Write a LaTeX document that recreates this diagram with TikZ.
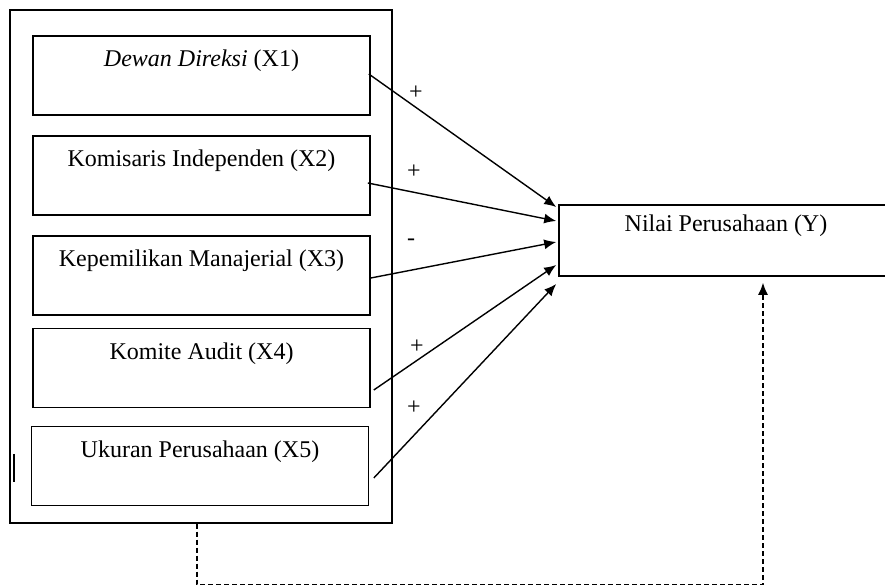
\documentclass[tikz,border=0pt]{standalone}
\usepackage{fontspec}
\setmainfont{Liberation Serif}
\usetikzlibrary{calc,arrows.meta}
\tikzset{
	varbox/.style={draw, line width=0.8pt, minimum width=168.5pt, inner sep=0pt, text height=15.5pt, text depth=24pt},
	infl/.style={line width=0.7pt, -{Latex[length=6pt,width=5pt]}},
}

\begin{document}
\begin{tikzpicture}[x=0.5pt, y=-0.5pt, font=\fontsize{12}{14}\selectfont]
		%%%%% START %%%%%
		\useasboundingbox (0,0) rectangle (885,587);
		
		\node[draw, line width=0.7pt, minimum width=191pt, minimum height=256.5pt, inner sep=0pt] (frame) at (201,266.5) {};
		
		\node[varbox] (x1) at (201.5,75.5) {\textit{Dewan Direksi} (X1)};
		\node[varbox] (x2) at (201.5,175.5) {Komisaris Independen (X2)};
		\node[varbox] (x3) at (201.5,275.5) {Kepemilikan Manajerial (X3)};
		\node[varbox] (x4) at (201.5,368) {Komite Audit (X4)};
		\node[varbox] (x5) at (200,466) {Ukuran Perusahaan (X5)};
		
		\node[varbox, minimum width=167pt, text height=13.5pt, text depth=22pt] (ybox) at (726,240.5) {Nilai Perusahaan (Y)};
		
		\draw[infl] ($(x1.east)+(-2,-1.5)$) -- ($(ybox.west)+(-2,-33.5)$);
		\draw[infl] ($(x2.east)+(-3,7.5)$) -- ($(ybox.west)+(-2,-19.5)$);
		\draw[infl] ($(x3.east)+(0,2.5)$) -- ($(ybox.west)+(-2,1.5)$);
		\draw[infl] ($(x4.east)+(3,22)$) -- ($(ybox.west)+(-2,24.5)$);
		\draw[infl] ($(x5.east)+(4.5,12)$) -- ($(ybox.west)+(-2,43.5)$);
		
		\node (sgn1) at (416,93) {+};
		\node (sgn2) at (414,172) {+};
		\node (sgn3) at (411,242) {-};
		\node (sgn4) at (417,347) {+};
		\node (sgn5) at (414,408) {+};
		
		\draw[infl, dash pattern=on 2.5pt off 1.5pt] ($(frame.south)+(-4,0)$) -- ++(0,61) -| ($(ybox.south)+(37,6)$);
		
		\draw[line width=0.7pt] (14,454) -- (14,482);
		%%%%% END %%%%%
\end{tikzpicture}
\end{document}
